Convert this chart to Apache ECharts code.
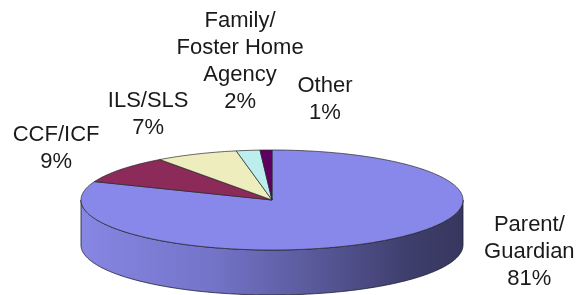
<!DOCTYPE html>
<html>
<head>
<meta charset="utf-8">
<script src="https://cdn.jsdelivr.net/npm/echarts@6/dist/echarts.min.js"></script>
<style>
html,body{margin:0;padding:0;background:#fff;}
#c{width:579px;height:295px;}
</style>
</head>
<body>
<div id="c"></div>
<script>
// ---- data ----
var categories = ['Parent/\nGuardian', 'CCF/ICF', 'ILS/SLS', 'Family/\nFoster Home\nAgency', 'Other'];
var values = [81, 9, 7, 2, 1];

// ---- style / layout (not data) ----
var topColors = ['#8888ea', '#8c2a5a', '#ededbe', '#bdeeee', '#600060'];
var labelNudge = [[150, 11], [-65, -21], [-48, -40], [-8, -89], [59, -51]];
var SQUASH = 50 / 191;   // vertical/horizontal radius ratio of the tilted top
var DEPTH = 45;          // thickness of the disc in px

var total = values.reduce(function (a, b) { return a + b; }, 0);
var starts = [];
(function () { var s = 0; for (var i = 0; i < values.length; i++) { starts.push(s); s += values[i]; } })();

var chart = echarts.init(document.getElementById('c'), null, { renderer: 'canvas' });

function renderItem(params, api) {
  var i = api.value(0);
  var v = api.value(1);
  var a0 = starts[i], a1 = starts[i] + v;
  var c = api.coord([0, 0]);
  var cx = c[0], cy = c[1];
  function proj(a) {
    var p = api.coord([1, a]);
    return [p[0], cy + (p[1] - cy) * SQUASH];
  }
  function arc(from, to, dy) {
    var pts = [];
    var n = Math.max(2, Math.ceil((to - from) / 0.25));
    for (var k = 0; k <= n; k++) {
      var p = proj(from + (to - from) * k / n);
      pts.push([p[0], p[1] + (dy || 0)]);
    }
    return pts;
  }
  var children = [];
  // outer wall for the front half (values 25..75 face the viewer)
  var w0 = Math.max(a0, total * 0.25), w1 = Math.min(a1, total * 0.75);
  if (w1 > w0) {
    var topRim = arc(w0, w1, 0);
    var botRim = arc(w0, w1, DEPTH).reverse();
    children.push({
      type: 'polygon',
      shape: { points: topRim.concat(botRim) },
      style: {
        fill: new echarts.graphic.LinearGradient(0, 0, 1, 0, [
          { offset: 0, color: '#8787e4' },
          { offset: 0.35, color: '#7373c8' },
          { offset: 0.6, color: '#5a5a9c' },
          { offset: 0.85, color: '#3f3f6e' },
          { offset: 1, color: '#36365e' }
        ]),
        stroke: '#1c1c30',
        lineWidth: 0.8
      }
    });
  }
  // top face
  var pts = [[cx, cy]].concat(arc(a0, a1, 0));
  children.push({
    type: 'polygon',
    shape: { points: pts },
    style: { fill: topColors[i], stroke: '#262626', lineWidth: 0.7, lineJoin: 'round' }
  });
  // label
  var mid = proj((a0 + a1) / 2);
  var pct = Math.round(v / total * 100) + '%';
  children.push({
    type: 'text',
    x: mid[0] + labelNudge[i][0],
    y: mid[1] + labelNudge[i][1],
    style: {
      text: categories[i] + '\n' + pct,
      fill: '#1a1a1a',
      fontFamily: '"Liberation Sans", Arial, sans-serif',
      fontSize: 22,
      lineHeight: 27,
      align: 'center',
      verticalAlign: 'middle'
    }
  });
  return { type: 'group', children: children };
}

chart.setOption({
  animation: false,
  backgroundColor: '#ffffff',
  polar: { center: [272, 200], radius: 191 },
  angleAxis: { type: 'value', min: 0, max: total, startAngle: 90, clockwise: true, show: false },
  radiusAxis: { type: 'value', min: 0, max: 1, show: false },
  series: [{
    type: 'custom',
    coordinateSystem: 'polar',
    renderItem: renderItem,
    data: values.map(function (v, i) { return [i, v]; }),
    encode: { radius: 0, angle: 1 }
  }]
});
</script>
</body>
</html>
